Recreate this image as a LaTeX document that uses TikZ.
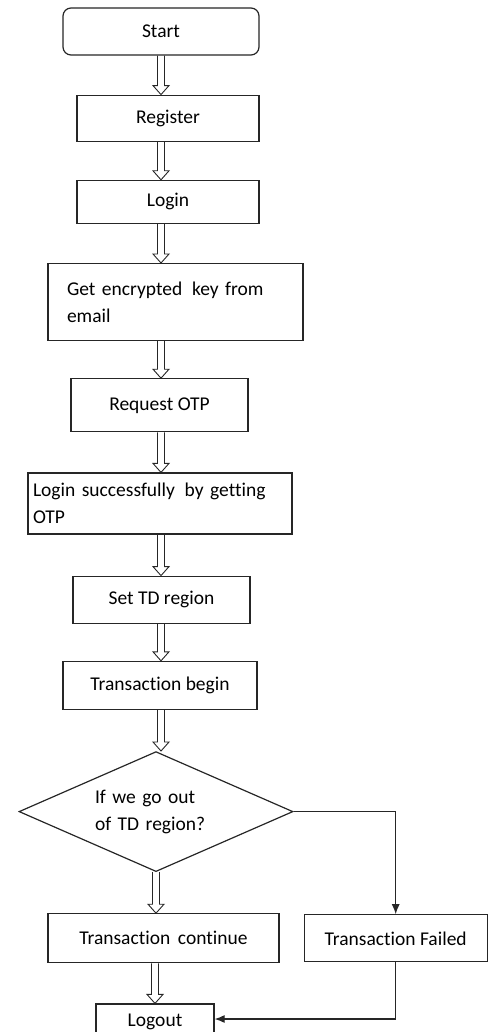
\documentclass[tikz,border=0pt]{standalone}
\usepackage{fontspec}
\setmainfont{Carlito}[Ligatures=NoCommon]
\usetikzlibrary{positioning, shapes.geometric, arrows.meta, calc}

\begin{document}
\begin{tikzpicture}[
    x=1pt, y=1pt,
    font=\fontsize{19.5pt}{27pt}\selectfont,
    box/.style={rectangle, draw=black!85, line width=1.2pt, align=center, inner sep=0pt, fill=white},
    terminal/.style={box, rounded corners=8pt},
    decision/.style={diamond, draw=black!85, line width=1.2pt, inner sep=0pt, aspect=2.28, minimum width=274pt, minimum height=120pt, text width=122pt, align=left},
    hollow/.style={draw=black!85, line width=0.9pt, line join=miter,
        to path={let \p1=(\tikztostart), \p2=(\tikztotarget) in
            (\x1-3.5pt,\y1) -- (\x1-3.5pt,\y2+9pt) -- (\x1-8pt,\y2+9pt) -- (\x1,\y2)
            -- (\x1+8pt,\y2+9pt) -- (\x1+3.5pt,\y2+9pt) -- (\x1+3.5pt,\y1)}},
    arrow/.style={draw=black!85, line width=1.2pt, -{Latex[length=10pt, width=8pt]}}
]
\useasboundingbox (0,0) rectangle (487,-1032);
\node[terminal, minimum width=196pt, minimum height=47pt] (start) at (161,-31.5) {Start};
\node[box, minimum width=182pt, minimum height=46pt, below=39pt of start, xshift=7pt] (register) {Register};
\node[box, minimum width=182pt, minimum height=43pt, below=38pt of register] (login) {Login};
\node[box, minimum width=255pt, minimum height=77pt, text width=217pt, inner xsep=19pt, align=left, below=39pt of login, xshift=7.5pt] (getkey) {Get encrypted\, key from\\email};
\node[box, minimum width=177pt, minimum height=53pt, below=37pt of getkey, xshift=-16pt] (request) {Request OTP};
\node[box, minimum width=264pt, minimum height=61pt, text width=254pt, inner xsep=5pt, align=left, below=40pt of request, xshift=0.5pt] (loginok) {Login successfully\, by getting\\OTP};
\node[box, minimum width=177pt, minimum height=47pt, below=41pt of loginok, xshift=1.5pt] (settd) {Set TD region};
\node[box, minimum width=194pt, minimum height=48pt, below=37pt of settd, xshift=-1.5pt] (begin) {Transaction begin};
\node[decision, below=41pt of begin, xshift=-4pt] (check) {If we go out\\of TD region?};
\node[box, minimum width=231pt, minimum height=49pt, below=41pt of check, xshift=7.5pt] (continue) {Transaction\, continue};
\node[box, minimum width=183pt, minimum height=47pt, right=24pt of continue] (failed) {Transaction Failed};
\node[box, minimum width=118pt, minimum height=42pt, text depth=9pt, below=40pt of continue, xshift=-8.5pt] (logout) {Logout};
% main flow
\draw[hollow] (start.south) to (register.north -| start);
\draw[hollow] (register.south -| start) to (login.north -| start);
\draw[hollow] (login.south -| start) to (getkey.north -| start);
\draw[hollow] (getkey.south -| start) to (request.north -| start);
\draw[hollow] (request.south -| start) to (loginok.north -| start);
\draw[hollow] (loginok.south -| start) to (settd.north -| start);
\draw[hollow] (settd.south -| start) to (begin.north -| start);
\draw[hollow] (begin.south -| start) to (check.north);
\draw[hollow] (check.south) to (continue.north -| check);
\draw[hollow] (continue.south -| logout) to (logout.north);
% failure branch
\draw[arrow] (check.east) -| (failed.north);
\draw[arrow] (failed.south) |- ([yshift=6pt]logout.east);
\end{tikzpicture}
\end{document}
